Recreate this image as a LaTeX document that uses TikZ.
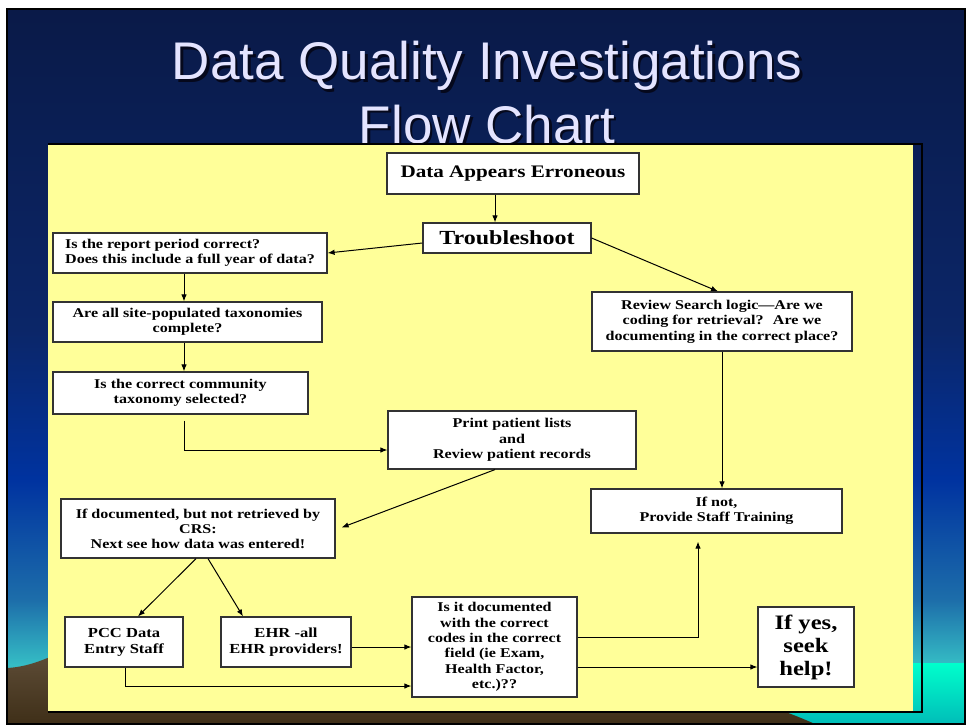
\documentclass[tikz,border=0pt]{standalone}
\usepackage{fontspec}
\setmainfont{Liberation Serif}
\newfontfamily\titlefont{Liberation Sans}
\newfontfamily\boxfont[FakeStretch=1.2,Ligatures=TeX]{Liberation Serif}
\usetikzlibrary{arrows.meta,calc}

\definecolor{bgA}{HTML}{0A1A48}
\definecolor{bgB}{HTML}{0B2668}
\definecolor{bgC}{HTML}{0033A0}
\definecolor{bgD}{HTML}{1D6EAA}
\definecolor{bgE}{HTML}{35BDC5}
\definecolor{seaTop}{HTML}{00FFCC}
\definecolor{seaBot}{HTML}{00BDB8}
\definecolor{hillTop}{HTML}{75634E}
\definecolor{hillBot}{HTML}{3F2F18}
\definecolor{panelfill}{HTML}{FFFF99}
\definecolor{titletext}{HTML}{E4E4FF}
\definecolor{titleshadow}{HTML}{05081C}
\definecolor{boxedge}{HTML}{333333}

\tikzset{
  flowbox/.style={draw=boxedge, line width=1.2pt, fill=white, inner sep=0pt,
    align=center, font=\boxfont\bfseries\fontsize{13.4}{15.5}\selectfont},
  arr/.style={draw=black, line width=1pt, -{Latex[length=7pt,width=5.5pt]}},
  titlestyle/.style={anchor=base, inner sep=0pt, font=\titlefont\fontsize{53}{60}\selectfont},
}

\begin{document}
\begin{tikzpicture}[x=1pt,y=-1pt]
\useasboundingbox (0,0) rectangle (967,725);
\fill[white] (0,0) rectangle (967,725);

% slide background
\shade[top color=bgA, bottom color=bgB] (7,9) rectangle (964,331);
\shade[top color=bgB, bottom color=bgC] (7,330) rectangle (964,481);
\shade[top color=bgC, bottom color=bgD] (7,480) rectangle (964,601);
\shade[top color=bgD, bottom color=bgE] (7,600) rectangle (964,665);
\fill[bgE] (7,664) rectangle (964,724);
\shade[top color=seaTop, bottom color=seaBot] (300,663) rectangle (964,724);
\shade[top color=hillTop, bottom color=hillBot]
  (7,668) .. controls (25,667) and (38,662) .. (55,655)
  .. controls (250,600) and (650,650) .. (815,724) -- (7,724) -- cycle;
\draw[black, line width=2pt] (6.5,9.5) rectangle (965,724);

% title with drop shadow
\node[titlestyle, text=titleshadow] (t1s) at (489.5,82.5) {Data Quality Investigations};
\node[titlestyle, text=titletext] (t1) at (487,80) {Data Quality Investigations};
\node[titlestyle, text=titleshadow] (t2s) at (489.5,145.5) {Flow Chart};
\node[titlestyle, text=titletext] (t2) at (487,143) {Flow Chart};

% panel
\fill[panelfill] (48,144.5) rectangle (913,711);
\draw[black, line width=2pt] (48,143.5) -- (922,143.5) -- (922,712) -- (48,712);

% boxes
\node[flowbox, minimum width=252, minimum height=41,
  font=\boxfont\bfseries\fontsize{17.6}{20}\selectfont] (dae) at (513,173.5) {Data Appears Erroneous};
\node[flowbox, minimum width=168, minimum height=30,
  font=\boxfont\bfseries\fontsize{20}{22}\selectfont] (trb) at (507,238) {Troubleshoot};
\node[flowbox, align=left, minimum width=274, minimum height=40] (rep) at (190,253)
  {Is the report period correct?\\Does this include a full year of data?};
\node[flowbox, minimum width=269, minimum height=40] (tax) at (187.5,322)
  {Are all site-populated taxonomies\\complete?};
\node[flowbox, minimum width=255, minimum height=42] (com) at (180.5,393)
  {Is the correct community\\taxonomy selected?};
\node[flowbox, minimum width=260, minimum height=59] (rev) at (722,321.5)
  {Review Search logic—Are we\\coding for retrieval?~ Are we\\documenting in the correct place?};
\node[flowbox, minimum width=248, minimum height=58] (prt) at (512,440)
  {Print patient lists\\and\\Review patient records};
\node[flowbox, minimum width=274, minimum height=59,
  font=\boxfont\bfseries\fontsize{13.4}{15}\selectfont] (idoc) at (198,528.5)
  {If documented, but not retrieved by\\CRS:\\Next see how data was entered!};
\node[flowbox, minimum width=251, minimum height=44] (ifnot) at (716.5,511)
  {If not,\\Provide Staff Training};
\node[flowbox, minimum width=118, minimum height=50,
  font=\boxfont\bfseries\fontsize{13.8}{16}\selectfont] (pcc) at (124,642)
  {PCC Data\\Entry Staff};
\node[flowbox, minimum width=130, minimum height=50,
  font=\boxfont\bfseries\fontsize{13.8}{16}\selectfont] (ehr) at (286,642)
  {EHR -all\\EHR providers!};
\node[flowbox, minimum width=165, minimum height=100,
  font=\boxfont\bfseries\fontsize{13.4}{15.3}\selectfont] (isit) at (494.5,647)
  {Is it documented\\with the correct\\codes in the correct\\field (ie Exam,\\Health Factor,\\etc.)??};
\node[flowbox, minimum width=96, minimum height=80,
  font=\boxfont\bfseries\fontsize{20.5}{23}\selectfont] (yes) at (806,647)
  {If yes,\\seek\\help!};

% connectors
\draw[arr] ($(dae.south)+(-18,0)$) -- ($(trb.north)+(-12,0)$);
\draw[arr] ($(trb.west)+(0,5)$) -- (rep.east);
\draw[arr] (trb.east) -- ($(rev.north)+(-4,0)$);
\draw[arr] ($(rep.south)+(-6,0)$) -- ($(tax.north)+(-3.5,0)$);
\draw[arr] ($(tax.south)+(-3.5,0)$) -- ($(com.north)+(3.5,0)$);
\draw[arr] ($(com.south)+(3.5,6)$) |- ($(prt.west)+(0,10)$);
\draw[arr] ($(prt.south)+(-17,0)$) -- ($(idoc.east)+(6,-1)$);
\draw[arr] (rev.south) -- (rev.south |- ifnot.north);
\draw[arr] ($(idoc.south)+(-2,0)$) -- ($(pcc.north)+(14,0)$);
\draw[arr] ($(idoc.south)+(10,0)$) -- ($(ehr.north)+(-43,0)$);
\draw[arr] ($(pcc.south)+(1,0)$) |- ($(isit.west)+(0,39)$);
\draw[arr] ($(ehr.east)+(0,5)$) -- (isit.west);
\draw[arr] ($(isit.east)+(0,-10)$) -| ($(ifnot.south)+(-18.5,8)$);
\draw[arr] ($(isit.east)+(0,20)$) -- ($(yes.west)+(0,20)$);
\end{tikzpicture}
\end{document}
